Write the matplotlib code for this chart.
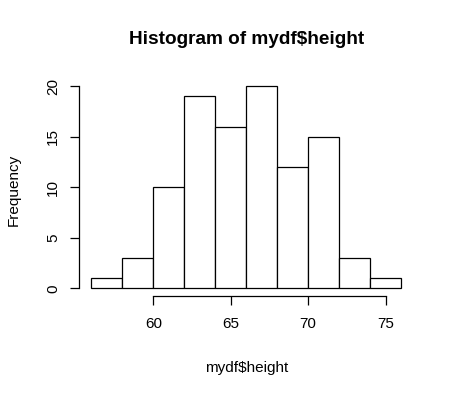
import matplotlib.pyplot as plt
import numpy as np

plt.rcParams['font.family'] = ['Liberation Sans', 'DejaVu Sans']

# histogram of mydf$height, 2-unit bins
bin_edges = [56, 58, 60, 62, 64, 66, 68, 70, 72, 74, 76]
counts = [1, 3, 10, 19, 16, 20, 12, 15, 3, 1]
x_ticks = [60, 65, 70, 75]
y_ticks = [0, 5, 10, 15, 20]

fig = plt.figure(figsize=(4.54, 3.95), dpi=100)
ax = fig.add_axes([0.174, 0.2496, 0.7366, 0.553])

widths = np.diff(bin_edges)
ax.bar(bin_edges[:-1], counts, width=widths, align='edge',
       facecolor='white', edgecolor='black', linewidth=0.9)

ax.set_xlim(55.2, 76.8)
ax.set_ylim(-0.8, 20.8)
ax.set_xticks(x_ticks)
ax.set_yticks(y_ticks)
ax.set_yticklabels([str(v) for v in y_ticks], rotation=90, va='center')

for s in ['top', 'right']:
    ax.spines[s].set_visible(False)
ax.spines['bottom'].set_bounds(60, 75)
ax.spines['left'].set_bounds(0, 20)
for s in ['bottom', 'left']:
    ax.spines[s].set_linewidth(0.9)
ax.tick_params(length=6.5, width=0.9, labelsize=11)
ax.tick_params(axis='x', pad=8)
ax.tick_params(axis='y', pad=7)

fig.text(0.543, 0.899, 'Histogram of mydf$height', ha='center', va='center',
         fontsize=13.7, fontweight='bold')
fig.text(0.543, 0.068, 'mydf$height', ha='center', va='center', fontsize=11)
fig.text(0.031, 0.519, 'Frequency', ha='center', va='center', rotation=90,
         fontsize=11)

fig.savefig('out.png', dpi=100)
